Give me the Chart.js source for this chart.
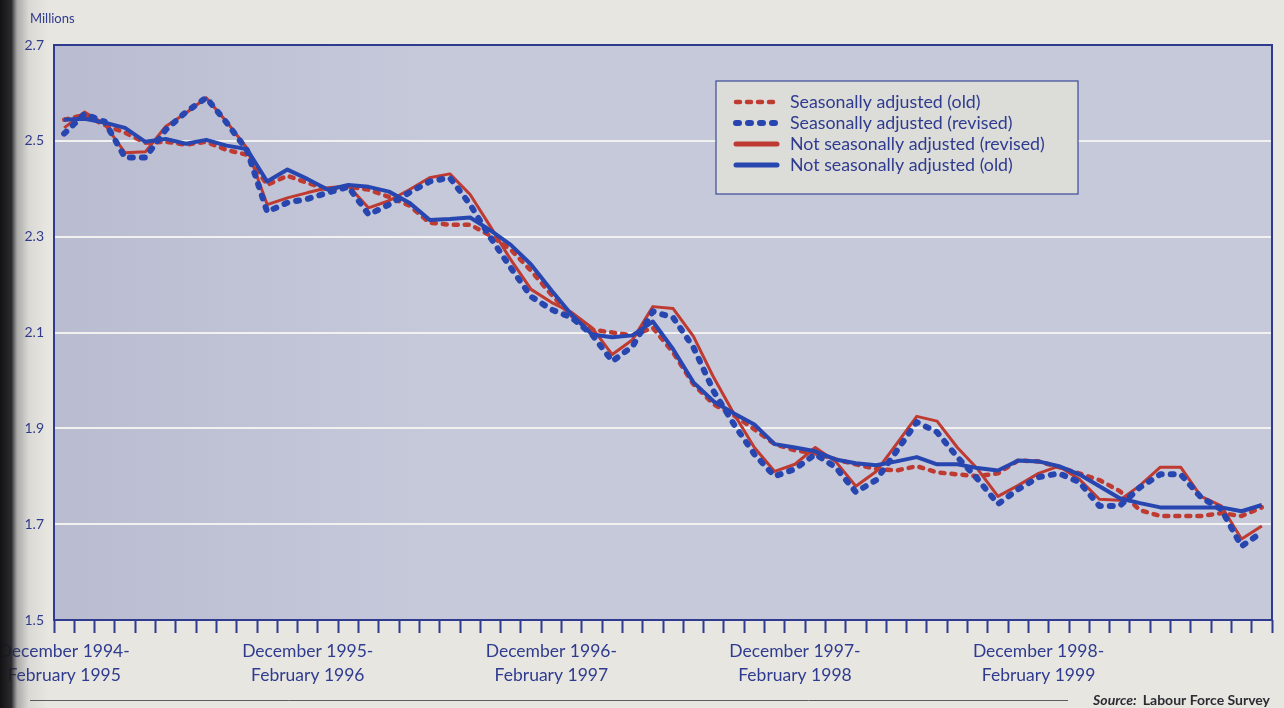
<!DOCTYPE html>
<html>
<head>
<meta charset="utf-8">
<script src="https://cdn.jsdelivr.net/npm/chart.js@4.4.1/dist/chart.umd.min.js"></script>
<style>
  html, body { margin: 0; padding: 0; background: #e7e6e1; }
  #wrap { width: 1284px; height: 708px; position: relative; }
  canvas { display: block; }
</style>
</head>
<body>
<div id="wrap"><canvas id="chart" width="1284" height="708"></canvas></div>
<script>
// Rolling three-month periods, December 1994-February 1995 onwards
const periods = [
  'Dec 94-Feb 95','Jan-Mar 95','Feb-Apr 95','Mar-May 95','Apr-Jun 95','May-Jul 95','Jun-Aug 95','Jul-Sep 95','Aug-Oct 95','Sep-Nov 95','Oct-Dec 95','Nov 95-Jan 96',
  'Dec 95-Feb 96','Jan-Mar 96','Feb-Apr 96','Mar-May 96','Apr-Jun 96','May-Jul 96','Jun-Aug 96','Jul-Sep 96','Aug-Oct 96','Sep-Nov 96','Oct-Dec 96','Nov 96-Jan 97',
  'Dec 96-Feb 97','Jan-Mar 97','Feb-Apr 97','Mar-May 97','Apr-Jun 97','May-Jul 97','Jun-Aug 97','Jul-Sep 97','Aug-Oct 97','Sep-Nov 97','Oct-Dec 97','Nov 97-Jan 98',
  'Dec 97-Feb 98','Jan-Mar 98','Feb-Apr 98','Mar-May 98','Apr-Jun 98','May-Jul 98','Jun-Aug 98','Jul-Sep 98','Aug-Oct 98','Sep-Nov 98','Oct-Dec 98','Nov 98-Jan 99',
  'Dec 98-Feb 99','Jan-Mar 99','Feb-Apr 99','Mar-May 99','Apr-Jun 99','May-Jul 99','Jun-Aug 99','Jul-Sep 99','Aug-Oct 99','Sep-Nov 99','Oct-Dec 99','Nov 99-Jan 00'
];

// Axis labels shown under the periods they name
const labelIndex = [0, 12, 24, 36, 48];
const labelText = [
  ['December 1994-', 'February 1995'],
  ['December 1995-', 'February 1996'],
  ['December 1996-', 'February 1997'],
  ['December 1997-', 'February 1998'],
  ['December 1998-', 'February 1999']
];
const yTicks = [1.5, 1.7, 1.9, 2.1, 2.3, 2.5, 2.7];

// Millions
const saOld = [
  2.544, 2.554, 2.533, 2.517, 2.496, 2.498, 2.492, 2.498, 2.481, 2.471, 2.408, 2.427,
  2.412, 2.398, 2.404, 2.398, 2.383, 2.365, 2.329, 2.325, 2.325, 2.302, 2.273, 2.229,
  2.179, 2.135, 2.106, 2.100, 2.094, 2.110, 2.058, 1.992, 1.950, 1.927, 1.898, 1.867,
  1.854, 1.848, 1.835, 1.825, 1.815, 1.812, 1.821, 1.808, 1.804, 1.800, 1.806, 1.833,
  1.831, 1.819, 1.806, 1.792, 1.769, 1.729, 1.717, 1.717, 1.717, 1.723, 1.717, 1.735
];
const saRevised = [
  2.515, 2.556, 2.540, 2.465, 2.465, 2.523, 2.560, 2.590, 2.538, 2.481, 2.352, 2.371,
  2.379, 2.392, 2.404, 2.346, 2.367, 2.392, 2.415, 2.423, 2.367, 2.298, 2.235, 2.175,
  2.148, 2.131, 2.096, 2.040, 2.071, 2.144, 2.131, 2.069, 1.977, 1.908, 1.846, 1.800,
  1.815, 1.846, 1.819, 1.767, 1.792, 1.852, 1.913, 1.892, 1.840, 1.794, 1.742, 1.773,
  1.798, 1.806, 1.788, 1.738, 1.738, 1.777, 1.804, 1.804, 1.756, 1.731, 1.654, 1.683
];
const nsaRevised = [
  2.527, 2.560, 2.535, 2.475, 2.477, 2.530, 2.558, 2.590, 2.540, 2.485, 2.367, 2.381,
  2.392, 2.402, 2.406, 2.360, 2.375, 2.398, 2.423, 2.431, 2.388, 2.321, 2.252, 2.190,
  2.163, 2.142, 2.110, 2.054, 2.085, 2.154, 2.150, 2.092, 2.006, 1.930, 1.860, 1.810,
  1.825, 1.860, 1.831, 1.779, 1.810, 1.867, 1.925, 1.915, 1.860, 1.815, 1.758, 1.781,
  1.806, 1.821, 1.794, 1.752, 1.750, 1.781, 1.819, 1.819, 1.758, 1.738, 1.669, 1.696
];
const nsaOld = [
  2.544, 2.546, 2.538, 2.527, 2.498, 2.504, 2.494, 2.502, 2.490, 2.483, 2.415, 2.440,
  2.420, 2.398, 2.408, 2.404, 2.394, 2.371, 2.335, 2.337, 2.340, 2.313, 2.283, 2.242,
  2.188, 2.137, 2.096, 2.090, 2.094, 2.123, 2.065, 1.996, 1.956, 1.931, 1.908, 1.867,
  1.860, 1.852, 1.835, 1.827, 1.823, 1.831, 1.840, 1.825, 1.825, 1.817, 1.812, 1.833,
  1.831, 1.821, 1.804, 1.779, 1.754, 1.744, 1.735, 1.735, 1.735, 1.735, 1.727, 1.740
];

const INK = '#2f3b8f';
const RED = '#bf3a30';
const BLUE = '#2746b0';
const PAGE = '#e7e6e1';
const PLOT = '#c5c9da';
const FONT = 'Lato, "Open Sans", sans-serif';

// Legend entries in the order they are listed
const legendOrder = [
  'Seasonally adjusted (old)',
  'Seasonally adjusted (revised)',
  'Not seasonally adjusted (revised)',
  'Not seasonally adjusted (old)'
];

const backdrop = {
  id: 'backdrop',
  beforeDraw(chart) {
    const { ctx, chartArea: a } = chart;
    ctx.save();
    ctx.fillStyle = PAGE;
    ctx.fillRect(0, 0, chart.width, chart.height);
    ctx.fillStyle = PLOT;
    ctx.fillRect(a.left, a.top, a.right - a.left, a.bottom - a.top);
    const g = ctx.createLinearGradient(a.left, 0, a.left + 380, 0);
    g.addColorStop(0, 'rgba(70,60,110,0.09)');
    g.addColorStop(1, 'rgba(70,60,110,0)');
    ctx.fillStyle = g;
    ctx.fillRect(a.left, a.top, 380, a.bottom - a.top);
    ctx.restore();
  }
};

const frame = {
  id: 'frame',
  afterDraw(chart) {
    const { ctx, chartArea: a } = chart;
    ctx.save();
    ctx.strokeStyle = INK;
    ctx.lineWidth = 2;
    ctx.strokeRect(a.left, a.top, a.right - a.left, a.bottom - a.top);

    // unit caption
    ctx.fillStyle = INK;
    ctx.font = '13px ' + FONT;
    ctx.textBaseline = 'middle';
    ctx.textAlign = 'left';
    ctx.fillText('Millions', 30, 19);

    // legend box
    const bx = 716, by = 81, bw = 362, bh = 113;
    ctx.fillStyle = '#dcdcd9';
    ctx.fillRect(bx, by, bw, bh);
    ctx.strokeStyle = '#3d4a98';
    ctx.lineWidth = 1.2;
    ctx.strokeRect(bx, by, bw, bh);
    legendOrder.forEach((name, i) => {
      const ds = chart.data.datasets.find(d => d.label === name);
      const y = 102 + i * 21;
      ctx.save();
      ctx.strokeStyle = ds.borderColor;
      const dashed = ds.borderDash && ds.borderDash.length;
      ctx.lineWidth = dashed ? ds.borderWidth : 5;
      ctx.setLineDash(dashed ? ds.borderDash : []);
      ctx.lineCap = 'round';
      ctx.beginPath();
      ctx.moveTo(dashed ? 736 : 736, y);
      ctx.lineTo(777, y);
      ctx.stroke();
      ctx.restore();
      ctx.fillStyle = INK;
      ctx.font = '17.8px ' + FONT;
      ctx.textAlign = 'left';
      ctx.textBaseline = 'middle';
      ctx.fillText(name, 790, y);
    });

    // source note
    ctx.strokeStyle = '#5a5a60';
    ctx.lineWidth = 1;
    ctx.beginPath();
    ctx.moveTo(30, 700.5);
    ctx.lineTo(1068, 700.5);
    ctx.stroke();
    ctx.fillStyle = '#2b2b33';
    ctx.textBaseline = 'alphabetic';
    ctx.textAlign = 'right';
    ctx.font = 'bold 14px ' + FONT;
    const rest = 'Labour Force Survey';
    ctx.fillText(rest, 1270, 705);
    const restW = ctx.measureText(rest).width;
    ctx.font = 'italic bold 14px ' + FONT;
    ctx.fillText('Source:  ', 1270 - restW, 705);

    // binding shadow along the left edge
    const s = ctx.createLinearGradient(0, 0, 48, 0);
    s.addColorStop(0, 'rgba(18,18,20,1)');
    s.addColorStop(0.24, 'rgba(28,28,32,0.92)');
    s.addColorStop(0.36, 'rgba(60,60,66,0.35)');
    s.addColorStop(0.6, 'rgba(60,60,66,0.08)');
    s.addColorStop(1, 'rgba(60,60,66,0)');
    ctx.fillStyle = s;
    ctx.fillRect(0, 0, 48, chart.height);
    ctx.restore();
  }
};

new Chart(document.getElementById('chart'), {
  type: 'line',
  data: {
    labels: periods,
    datasets: [
      { label: 'Not seasonally adjusted (revised)', data: nsaRevised, borderColor: RED, borderWidth: 3, order: 4 },
      { label: 'Seasonally adjusted (old)', data: saOld, borderColor: RED, borderWidth: 4.5, borderDash: [4, 7], borderCapStyle: 'round', order: 3 },
      { label: 'Seasonally adjusted (revised)', data: saRevised, borderColor: BLUE, borderWidth: 6, borderDash: [3, 9], borderCapStyle: 'round', order: 2 },
      { label: 'Not seasonally adjusted (old)', data: nsaOld, borderColor: BLUE, borderWidth: 4, order: 1 }
    ]
  },
  options: {
    responsive: false,
    animation: false,
    devicePixelRatio: 1,
    layout: { padding: { left: 0, right: 12, top: 45, bottom: 0 } },
    elements: {
      point: { radius: 0, hoverRadius: 0 },
      line: { tension: 0, borderJoinStyle: 'round', fill: false }
    },
    plugins: { legend: { display: false }, tooltip: { enabled: false } },
    scales: {
      x: {
        offset: true,
        grid: { offset: true, drawOnChartArea: false, drawTicks: true, tickLength: 13, tickColor: INK, tickWidth: 2 },
        border: { display: false },
        ticks: {
          autoSkip: false, maxRotation: 0, minRotation: 0, padding: 7,
          color: INK,
          font: { family: FONT, size: 17.5, lineHeight: 1.35 },
          callback: (v, i) => {
            const k = labelIndex.indexOf(i);
            return k >= 0 ? labelText[k] : '';
          }
        },
        afterFit: s => { s.height = 88; s.paddingLeft = 0; s.paddingRight = 0; }
      },
      y: {
        min: 1.5, max: 2.7,
        afterBuildTicks: s => { s.ticks = yTicks.map(v => ({ value: v })); },
        grid: {
          drawTicks: false,
          lineWidth: 2,
          color: c => (c.tick && (c.tick.value === 1.5 || c.tick.value === 2.7)) ? 'rgba(0,0,0,0)' : 'rgba(243,243,240,0.95)'
        },
        border: { display: false },
        ticks: {
          padding: 10, color: INK,
          font: { family: FONT, size: 14 },
          callback: v => Number(v).toFixed(1)
        },
        afterFit: s => { s.width = 54; }
      }
    }
  },
  plugins: [backdrop, frame]
});
</script>
</body>
</html>
